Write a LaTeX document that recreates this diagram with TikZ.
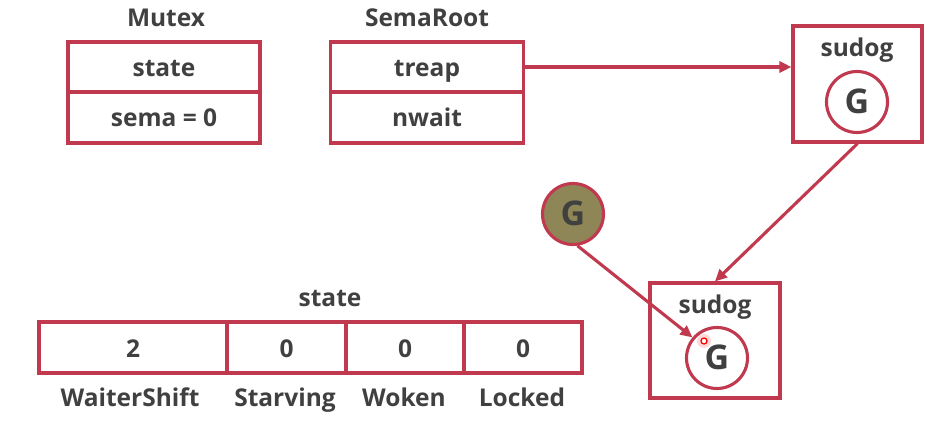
\documentclass[tikz,border=0pt]{standalone}
\usepackage{fontspec}
\setmainfont{Open Sans}
\usetikzlibrary{arrows.meta}
\definecolor{frame}{HTML}{C0394F}
\definecolor{ink}{HTML}{404040}
\definecolor{olive}{HTML}{8E8656}
\begin{document}
\begin{tikzpicture}[x=1pt,y=-1pt,
  every node/.style={text=ink,font=\fontsize{24.5}{26}\selectfont\bfseries,
    text height=19pt,text depth=0pt},
  cell/.style={draw=frame,line width=3.1pt,rectangle,inner sep=0pt,anchor=center},
  title/.style={inner sep=0pt},
  gcircle/.style={circle,draw=frame,line width=3.1pt,minimum size=61pt,inner sep=0pt,
    text height=23pt,text depth=0pt,font=\fontsize{34}{36}\selectfont\bfseries},
  link/.style={draw=frame,line width=3.1pt,-{Triangle[length=12pt,width=11pt]}}]
\useasboundingbox (0,0) rectangle (934,425);

% Mutex
\node[title] (mutex) at (166,17) {Mutex};
\node[cell,minimum width=192pt,minimum height=50pt] (mstate) at (164,67) {state};
\node[cell,minimum width=192pt,minimum height=51pt] (msema) at (164,117.5) {sema = 0};

% SemaRoot
\node[title] (semaroot) at (427,17) {SemaRoot};
\node[cell,minimum width=193pt,minimum height=50pt] (treap) at (427,67) {treap};
\node[cell,minimum width=193pt,minimum height=51pt] (nwait) at (427,117.5) {nwait};

% first sudog
\node[cell,minimum width=129pt,minimum height=116pt] (sudogA) at (857.5,84) {};
\node[title] (sudogAt) at (857,47.5) {sudog};
\node[gcircle] (gA) at (857,102) {G};

% second sudog
\node[cell,minimum width=130pt,minimum height=115pt] (sudogB) at (715,340.5) {};
\node[title] (sudogBt) at (715,303.5) {sudog};
\node[gcircle] (gB) at (717,358) {G};

% waiting goroutine
\node[gcircle,fill=olive] (g0) at (573,214) {G};

% laser pointer spot
\node[circle,fill=red!25,opacity=0.6,minimum size=14pt,inner sep=0pt,text height=0pt,text depth=0pt] (glow) at (704,341) {};
\node[circle,draw=red,fill=white,line width=1.3pt,minimum size=6pt,inner sep=0pt,text height=0pt,text depth=0pt] (spot) at (704,341) {};

% state word
\node[title] (statet) at (330,296.5) {state};
\node[cell,minimum width=188pt,minimum height=51pt] (c1) at (133,347.5) {2};
\node[cell,minimum width=119pt,minimum height=51pt] (c2) at (286.5,347.5) {0};
\node[cell,minimum width=118pt,minimum height=51pt] (c3) at (405,347.5) {0};
\node[cell,minimum width=118pt,minimum height=51pt] (c4) at (523,347.5) {0};
\node[title] (l1) at (130,397) {WaiterShift};
\node[title] (l2) at (285,397) {Starving};
\node[title] (l3) at (404,397) {Woken};
\node[title] (l4) at (522,397) {Locked};

% links
\draw[link] (treap.east) -- (sudogA.west |- treap.east);
\draw[link] (sudogA.south) -- (sudogB.north);
\draw[link] (g0.-82) -- (gB.140);
\end{tikzpicture}
\end{document}
